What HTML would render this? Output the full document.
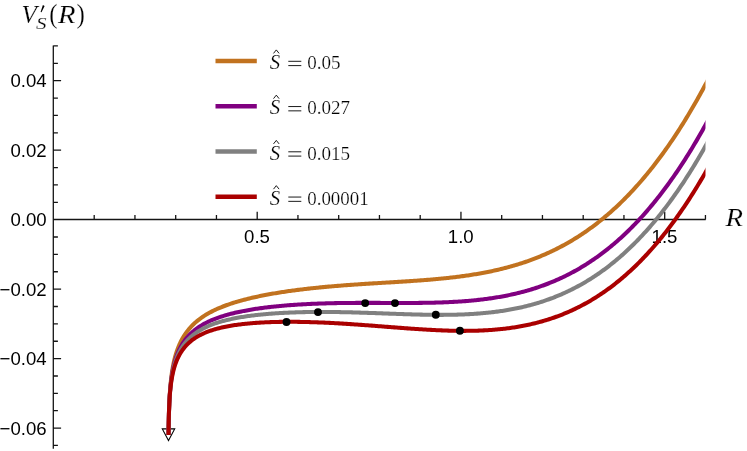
<!DOCTYPE html>
<html><head><meta charset="utf-8"><title>plot</title>
<style>html,body{margin:0;padding:0;background:#fff}body{width:747px;height:451px;position:relative;overflow:hidden;font-family:"Liberation Sans",sans-serif}</style></head>
<body>
<svg width="747" height="451" viewBox="0 0 747 451" style="position:absolute;left:0;top:0;will-change:transform">
<defs><clipPath id="cp"><rect x="53.3" y="40" width="652.2" height="406"/></clipPath></defs>
<path d="M53.3,219.5 H705.7 M53.3,45.4 V448.8 M94.20,219.5 v-4.6 M134.95,219.5 v-4.6 M175.70,219.5 v-4.6 M216.45,219.5 v-4.6 M257.20,219.5 v-7.8 M297.95,219.5 v-4.6 M338.70,219.5 v-4.6 M379.45,219.5 v-4.6 M420.20,219.5 v-4.6 M460.95,219.5 v-7.8 M501.70,219.5 v-4.6 M542.45,219.5 v-4.6 M583.20,219.5 v-4.6 M623.95,219.5 v-4.6 M664.70,219.5 v-7.8 M705.45,219.5 v-4.6 M53.3,445.46 h4.6 M53.3,428.09 h7.8 M53.3,410.72 h4.6 M53.3,393.35 h4.6 M53.3,375.98 h4.6 M53.3,358.61 h7.8 M53.3,341.24 h4.6 M53.3,323.87 h4.6 M53.3,306.50 h4.6 M53.3,289.13 h7.8 M53.3,271.76 h4.6 M53.3,254.39 h4.6 M53.3,237.02 h4.6 M53.3,219.65 h7.8 M53.3,202.28 h4.6 M53.3,184.91 h4.6 M53.3,167.54 h4.6 M53.3,150.17 h7.8 M53.3,132.80 h4.6 M53.3,115.43 h4.6 M53.3,98.06 h4.6 M53.3,80.69 h7.8 M53.3,63.32 h4.6 M53.3,45.95 h4.6" fill="none" stroke="#141414" stroke-width="1.3"/>
<text x="46.6" y="87.19" text-anchor="end" style="font-family:'Liberation Sans',sans-serif;font-size:18.6px;fill:#000">0.04</text>
<text x="46.6" y="156.67" text-anchor="end" style="font-family:'Liberation Sans',sans-serif;font-size:18.6px;fill:#000">0.02</text>
<text x="46.6" y="226.15" text-anchor="end" style="font-family:'Liberation Sans',sans-serif;font-size:18.6px;fill:#000">0.00</text>
<text x="46.6" y="295.63" text-anchor="end" style="font-family:'Liberation Sans',sans-serif;font-size:18.6px;fill:#000">−0.02</text>
<text x="46.6" y="365.11" text-anchor="end" style="font-family:'Liberation Sans',sans-serif;font-size:18.6px;fill:#000">−0.04</text>
<text x="46.6" y="434.59" text-anchor="end" style="font-family:'Liberation Sans',sans-serif;font-size:18.6px;fill:#000">−0.06</text>
<text x="257.00" y="242.6" text-anchor="middle" style="font-family:'Liberation Sans',sans-serif;font-size:18.6px;fill:#000">0.5</text>
<text x="460.75" y="242.6" text-anchor="middle" style="font-family:'Liberation Sans',sans-serif;font-size:18.6px;fill:#000">1.0</text>
<text x="664.50" y="242.6" text-anchor="middle" style="font-family:'Liberation Sans',sans-serif;font-size:18.6px;fill:#000">1.5</text>
<path d="M162.3,428.9 L174.7,428.9 L168.5,440.6 Z" fill="#fff" stroke="#000" stroke-width="1.1"/>
<g clip-path="url(#cp)" fill="none" stroke-linejoin="round">
<path d="M168.60,435.00 L168.60,435.00 L168.62,433.44 L168.63,431.88 L168.65,430.32 L168.68,428.76 L168.70,427.19 L168.72,425.62 L168.75,424.06 L168.78,422.49 L168.81,420.91 L168.84,419.34 L168.88,417.76 L168.91,416.19 L168.95,414.61 L168.99,413.02 L169.04,411.44 L169.09,409.85 L169.14,408.26 L169.20,406.66 L169.26,405.07 L169.32,403.47 L169.39,401.86 L169.47,400.26 L169.55,398.65 L169.63,397.03 L169.72,395.42 L169.82,393.80 L169.93,392.17 L170.04,390.54 L170.16,388.91 L170.29,387.27 L170.43,385.63 L170.58,383.99 L170.73,382.34 L170.91,380.68 L171.09,379.03 L171.28,377.36 L171.49,375.69 L171.72,374.02 L171.96,372.34 L172.22,370.66 L172.49,368.97 L172.79,367.28 L173.11,365.59 L173.45,363.89 L173.81,362.18 L174.20,360.47 L174.62,358.76 L175.07,357.04 L175.55,355.32 L176.07,353.60 L176.62,351.88 L177.21,350.15 L177.85,348.42 L178.53,346.69 L179.25,344.95 L180.04,343.22 L180.87,341.49 L181.77,339.76 L182.73,338.03 L183.76,336.31 L184.86,334.59 L186.04,332.87 L187.31,331.16 L188.67,329.46 L188.76,329.35 L190.07,327.82 L191.39,326.38 L192.71,325.03 L194.02,323.76 L195.34,322.56 L196.66,321.42 L197.98,320.34 L199.29,319.31 L200.61,318.33 L201.93,317.40 L203.24,316.50 L204.56,315.65 L205.88,314.83 L207.19,314.04 L208.51,313.28 L209.83,312.55 L211.15,311.85 L212.46,311.17 L213.78,310.52 L215.10,309.89 L216.41,309.28 L217.73,308.69 L219.05,308.11 L220.37,307.56 L221.68,307.02 L223.00,306.50 L224.32,305.99 L225.63,305.50 L226.95,305.02 L228.27,304.55 L229.58,304.10 L230.90,303.65 L232.22,303.22 L233.54,302.80 L234.85,302.39 L236.17,301.99 L237.49,301.60 L238.80,301.22 L240.12,300.84 L241.44,300.48 L242.76,300.12 L244.07,299.77 L245.39,299.43 L246.71,299.09 L248.02,298.77 L249.34,298.44 L250.66,298.13 L251.97,297.82 L253.29,297.52 L254.61,297.22 L255.93,296.93 L257.24,296.65 L258.56,296.37 L259.88,296.09 L261.19,295.82 L262.51,295.56 L263.83,295.30 L265.15,295.04 L266.46,294.79 L267.78,294.54 L269.10,294.30 L270.41,294.06 L271.73,293.83 L273.05,293.60 L274.36,293.37 L275.68,293.15 L277.00,292.93 L278.32,292.72 L279.63,292.51 L280.95,292.30 L282.27,292.09 L283.58,291.89 L284.90,291.70 L286.22,291.50 L287.53,291.31 L288.85,291.12 L290.17,290.93 L291.49,290.75 L292.80,290.57 L294.12,290.40 L295.44,290.22 L296.75,290.05 L298.07,289.88 L299.39,289.72 L300.71,289.55 L302.02,289.39 L303.34,289.23 L304.66,289.08 L305.97,288.92 L307.29,288.77 L308.61,288.62 L309.92,288.48 L311.24,288.33 L312.56,288.19 L313.88,288.05 L315.19,287.91 L316.51,287.78 L317.83,287.64 L319.14,287.51 L320.46,287.38 L321.78,287.25 L323.10,287.13 L324.41,287.00 L325.73,286.88 L327.05,286.76 L328.36,286.64 L329.68,286.52 L331.00,286.41 L332.31,286.29 L333.63,286.18 L334.95,286.07 L336.27,285.96 L337.58,285.86 L338.90,285.75 L340.22,285.65 L341.53,285.54 L342.85,285.44 L344.17,285.34 L345.49,285.24 L346.80,285.14 L348.12,285.05 L349.44,284.95 L350.75,284.86 L352.07,284.76 L353.39,284.67 L354.70,284.58 L356.02,284.49 L357.34,284.40 L358.66,284.31 L359.97,284.23 L361.29,284.14 L362.61,284.05 L363.92,283.97 L365.24,283.88 L366.56,283.80 L367.88,283.72 L369.19,283.63 L370.51,283.55 L371.83,283.47 L373.14,283.39 L374.46,283.31 L375.78,283.23 L377.09,283.15 L378.41,283.07 L379.73,282.99 L381.05,282.91 L382.36,282.83 L383.68,282.75 L385.00,282.68 L386.31,282.60 L387.63,282.52 L388.95,282.44 L390.27,282.36 L391.58,282.28 L392.90,282.20 L394.22,282.12 L395.53,282.04 L396.85,281.96 L398.17,281.88 L399.48,281.80 L400.80,281.72 L402.12,281.63 L403.44,281.55 L404.75,281.47 L406.07,281.38 L407.39,281.30 L408.70,281.21 L410.02,281.12 L411.34,281.03 L412.65,280.94 L413.97,280.85 L415.29,280.76 L416.61,280.67 L417.92,280.57 L419.24,280.48 L420.56,280.38 L421.87,280.28 L423.19,280.18 L424.51,280.08 L425.83,279.98 L427.14,279.87 L428.46,279.76 L429.78,279.66 L431.09,279.54 L432.41,279.43 L433.73,279.32 L435.04,279.20 L436.36,279.08 L437.68,278.96 L439.00,278.84 L440.31,278.71 L441.63,278.58 L442.95,278.45 L444.26,278.32 L445.58,278.18 L446.90,278.04 L448.22,277.90 L449.53,277.76 L450.85,277.61 L452.17,277.46 L453.48,277.30 L454.80,277.15 L456.12,276.99 L457.43,276.82 L458.75,276.66 L460.07,276.49 L461.39,276.31 L462.70,276.13 L464.02,275.95 L465.34,275.77 L466.65,275.58 L467.97,275.39 L469.29,275.19 L470.61,274.99 L471.92,274.78 L473.24,274.58 L474.56,274.36 L475.87,274.14 L477.19,273.92 L478.51,273.69 L479.82,273.46 L481.14,273.23 L482.46,272.99 L483.78,272.74 L485.09,272.49 L486.41,272.23 L487.73,271.97 L489.04,271.70 L490.36,271.43 L491.68,271.16 L493.00,270.87 L494.31,270.58 L495.63,270.29 L496.95,269.99 L498.26,269.68 L499.58,269.37 L500.90,269.06 L502.21,268.73 L503.53,268.40 L504.85,268.07 L506.17,267.72 L507.48,267.38 L508.80,267.02 L510.12,266.66 L511.43,266.29 L512.75,265.91 L514.07,265.53 L515.39,265.14 L516.70,264.74 L518.02,264.34 L519.34,263.93 L520.65,263.51 L521.97,263.09 L523.29,262.65 L524.60,262.21 L525.92,261.76 L527.24,261.31 L528.56,260.84 L529.87,260.37 L531.19,259.89 L532.51,259.40 L533.82,258.90 L535.14,258.39 L536.46,257.88 L537.77,257.36 L539.09,256.83 L540.41,256.28 L541.73,255.74 L543.04,255.18 L544.36,254.61 L545.68,254.03 L546.99,253.45 L548.31,252.85 L549.63,252.25 L550.95,251.63 L552.26,251.01 L553.58,250.37 L554.90,249.73 L556.21,249.08 L557.53,248.41 L558.85,247.74 L560.16,247.05 L561.48,246.36 L562.80,245.65 L564.12,244.94 L565.43,244.21 L566.75,243.47 L568.07,242.72 L569.38,241.97 L570.70,241.19 L572.02,240.41 L573.34,239.62 L574.65,238.82 L575.97,238.00 L577.29,237.17 L578.60,236.33 L579.92,235.48 L581.24,234.62 L582.55,233.74 L583.87,232.86 L585.19,231.96 L586.51,231.04 L587.82,230.12 L589.14,229.18 L590.46,228.23 L591.77,227.27 L593.09,226.30 L594.41,225.31 L595.73,224.31 L597.04,223.29 L598.36,222.27 L599.68,221.22 L600.99,220.17 L602.31,219.10 L603.63,218.02 L604.94,216.92 L606.26,215.81 L607.58,214.69 L608.90,213.55 L610.21,212.40 L611.53,211.24 L612.85,210.05 L614.16,208.86 L615.48,207.65 L616.80,206.42 L618.12,205.19 L619.43,203.93 L620.75,202.66 L622.07,201.38 L623.38,200.08 L624.70,198.76 L626.02,197.43 L627.33,196.08 L628.65,194.72 L629.97,193.34 L631.29,191.95 L632.60,190.54 L633.92,189.11 L635.24,187.67 L636.55,186.21 L637.87,184.74 L639.19,183.25 L640.51,181.74 L641.82,180.21 L643.14,178.67 L644.46,177.11 L645.77,175.54 L647.09,173.94 L648.41,172.33 L649.72,170.71 L651.04,169.06 L652.36,167.40 L653.68,165.72 L654.99,164.02 L656.31,162.30 L657.63,160.57 L658.94,158.82 L660.26,157.05 L661.58,155.26 L662.89,153.45 L664.21,151.63 L665.53,149.78 L666.85,147.92 L668.16,146.04 L669.48,144.14 L670.80,142.22 L672.11,140.28 L673.43,138.32 L674.75,136.34 L676.07,134.35 L677.38,132.33 L678.70,130.29 L680.02,128.24 L681.33,126.16 L682.65,124.07 L683.97,121.95 L685.28,119.82 L686.60,117.66 L687.92,115.49 L689.24,113.29 L690.55,111.07 L691.87,108.83 L693.19,106.58 L694.50,104.30 L695.82,102.00 L697.14,99.68 L698.46,97.33 L699.77,94.97 L701.09,92.58 L702.41,90.18 L703.72,87.75 L705.04,85.30 L706.36,82.83 L707.67,80.34 L708.99,77.82 L710.31,75.29 L711.63,72.73 L712.94,70.15 L714.26,67.54" stroke="#C1721F" stroke-width="4.05"/>
<path d="M168.57,435.00 L168.58,433.71 L168.60,432.28 L168.62,430.85 L168.63,429.42 L168.65,427.99 L168.68,426.55 L168.70,425.12 L168.72,423.68 L168.75,422.24 L168.78,420.80 L168.81,419.35 L168.84,417.91 L168.88,416.46 L168.91,415.01 L168.95,413.56 L168.99,412.10 L169.04,410.65 L169.09,409.19 L169.14,407.73 L169.20,406.26 L169.26,404.80 L169.32,403.33 L169.39,401.85 L169.47,400.38 L169.55,398.90 L169.63,397.42 L169.72,395.93 L169.82,394.44 L169.93,392.95 L170.04,391.45 L170.16,389.95 L170.29,388.45 L170.43,386.94 L170.58,385.43 L170.73,383.91 L170.91,382.39 L171.09,380.87 L171.28,379.34 L171.49,377.81 L171.72,376.27 L171.96,374.73 L172.22,373.19 L172.49,371.64 L172.79,370.09 L173.11,368.53 L173.45,366.97 L173.81,365.41 L174.20,363.84 L174.62,362.27 L175.07,360.70 L175.55,359.13 L176.07,357.56 L176.62,355.98 L177.21,354.40 L177.85,352.83 L178.53,351.25 L179.25,349.68 L180.04,348.10 L180.87,346.53 L181.77,344.97 L182.73,343.41 L183.76,341.85 L184.86,340.30 L186.04,338.76 L187.31,337.23 L188.67,335.71 L188.76,335.62 L190.07,334.26 L191.39,332.98 L192.71,331.79 L194.02,330.67 L195.34,329.62 L196.66,328.62 L197.98,327.68 L199.29,326.79 L200.61,325.94 L201.93,325.14 L203.24,324.37 L204.56,323.64 L205.88,322.94 L207.19,322.27 L208.51,321.64 L209.83,321.02 L211.15,320.44 L212.46,319.87 L213.78,319.33 L215.10,318.81 L216.41,318.31 L217.73,317.82 L219.05,317.36 L220.37,316.91 L221.68,316.48 L223.00,316.06 L224.32,315.65 L225.63,315.26 L226.95,314.88 L228.27,314.51 L229.58,314.16 L230.90,313.82 L232.22,313.48 L233.54,313.16 L234.85,312.84 L236.17,312.54 L237.49,312.24 L238.80,311.96 L240.12,311.68 L241.44,311.41 L242.76,311.14 L244.07,310.89 L245.39,310.64 L246.71,310.40 L248.02,310.16 L249.34,309.93 L250.66,309.71 L251.97,309.49 L253.29,309.28 L254.61,309.07 L255.93,308.87 L257.24,308.68 L258.56,308.48 L259.88,308.30 L261.19,308.12 L262.51,307.94 L263.83,307.77 L265.15,307.60 L266.46,307.44 L267.78,307.28 L269.10,307.13 L270.41,306.98 L271.73,306.83 L273.05,306.69 L274.36,306.55 L275.68,306.41 L277.00,306.28 L278.32,306.15 L279.63,306.03 L280.95,305.91 L282.27,305.79 L283.58,305.67 L284.90,305.56 L286.22,305.45 L287.53,305.34 L288.85,305.24 L290.17,305.14 L291.49,305.04 L292.80,304.95 L294.12,304.86 L295.44,304.77 L296.75,304.68 L298.07,304.60 L299.39,304.52 L300.71,304.44 L302.02,304.36 L303.34,304.29 L304.66,304.21 L305.97,304.15 L307.29,304.08 L308.61,304.01 L309.92,303.95 L311.24,303.89 L312.56,303.83 L313.88,303.78 L315.19,303.72 L316.51,303.67 L317.83,303.62 L319.14,303.57 L320.46,303.53 L321.78,303.48 L323.10,303.44 L324.41,303.40 L325.73,303.36 L327.05,303.33 L328.36,303.29 L329.68,303.26 L331.00,303.22 L332.31,303.19 L333.63,303.17 L334.95,303.14 L336.27,303.11 L337.58,303.09 L338.90,303.07 L340.22,303.05 L341.53,303.03 L342.85,303.01 L344.17,302.99 L345.49,302.98 L346.80,302.96 L348.12,302.95 L349.44,302.94 L350.75,302.93 L352.07,302.92 L353.39,302.91 L354.70,302.90 L356.02,302.89 L357.34,302.89 L358.66,302.88 L359.97,302.88 L361.29,302.87 L362.61,302.87 L363.92,302.87 L365.24,302.87 L366.56,302.87 L367.88,302.87 L369.19,302.87 L370.51,302.87 L371.83,302.87 L373.14,302.88 L374.46,302.88 L375.78,302.88 L377.09,302.89 L378.41,302.89 L379.73,302.89 L381.05,302.90 L382.36,302.90 L383.68,302.91 L385.00,302.91 L386.31,302.92 L387.63,302.92 L388.95,302.93 L390.27,302.93 L391.58,302.93 L392.90,302.94 L394.22,302.94 L395.53,302.95 L396.85,302.95 L398.17,302.95 L399.48,302.95 L400.80,302.95 L402.12,302.96 L403.44,302.96 L404.75,302.96 L406.07,302.95 L407.39,302.95 L408.70,302.95 L410.02,302.95 L411.34,302.94 L412.65,302.93 L413.97,302.93 L415.29,302.92 L416.61,302.91 L417.92,302.90 L419.24,302.89 L420.56,302.87 L421.87,302.86 L423.19,302.84 L424.51,302.82 L425.83,302.80 L427.14,302.78 L428.46,302.76 L429.78,302.74 L431.09,302.71 L432.41,302.68 L433.73,302.65 L435.04,302.62 L436.36,302.58 L437.68,302.54 L439.00,302.50 L440.31,302.46 L441.63,302.42 L442.95,302.37 L444.26,302.32 L445.58,302.27 L446.90,302.21 L448.22,302.15 L449.53,302.09 L450.85,302.03 L452.17,301.96 L453.48,301.89 L454.80,301.82 L456.12,301.74 L457.43,301.67 L458.75,301.58 L460.07,301.50 L461.39,301.41 L462.70,301.31 L464.02,301.22 L465.34,301.11 L466.65,301.01 L467.97,300.90 L469.29,300.79 L470.61,300.67 L471.92,300.55 L473.24,300.43 L474.56,300.30 L475.87,300.16 L477.19,300.02 L478.51,299.88 L479.82,299.73 L481.14,299.58 L482.46,299.43 L483.78,299.26 L485.09,299.10 L486.41,298.92 L487.73,298.75 L489.04,298.56 L490.36,298.38 L491.68,298.18 L493.00,297.99 L494.31,297.78 L495.63,297.57 L496.95,297.36 L498.26,297.13 L499.58,296.91 L500.90,296.67 L502.21,296.43 L503.53,296.19 L504.85,295.94 L506.17,295.68 L507.48,295.41 L508.80,295.14 L510.12,294.86 L511.43,294.58 L512.75,294.29 L514.07,293.99 L515.39,293.68 L516.70,293.37 L518.02,293.05 L519.34,292.73 L520.65,292.39 L521.97,292.05 L523.29,291.70 L524.60,291.34 L525.92,290.98 L527.24,290.61 L528.56,290.22 L529.87,289.84 L531.19,289.44 L532.51,289.03 L533.82,288.62 L535.14,288.20 L536.46,287.77 L537.77,287.33 L539.09,286.88 L540.41,286.43 L541.73,285.96 L543.04,285.49 L544.36,285.00 L545.68,284.51 L546.99,284.01 L548.31,283.50 L549.63,282.97 L550.95,282.44 L552.26,281.90 L553.58,281.35 L554.90,280.79 L556.21,280.22 L557.53,279.64 L558.85,279.05 L560.16,278.45 L561.48,277.84 L562.80,277.22 L564.12,276.59 L565.43,275.94 L566.75,275.29 L568.07,274.63 L569.38,273.95 L570.70,273.26 L572.02,272.57 L573.34,271.86 L574.65,271.13 L575.97,270.40 L577.29,269.66 L578.60,268.90 L579.92,268.14 L581.24,267.36 L582.55,266.56 L583.87,265.76 L585.19,264.94 L586.51,264.12 L587.82,263.27 L589.14,262.42 L590.46,261.55 L591.77,260.68 L593.09,259.78 L594.41,258.88 L595.73,257.96 L597.04,257.03 L598.36,256.09 L599.68,255.13 L600.99,254.16 L602.31,253.17 L603.63,252.17 L604.94,251.16 L606.26,250.13 L607.58,249.09 L608.90,248.04 L610.21,246.97 L611.53,245.88 L612.85,244.79 L614.16,243.67 L615.48,242.55 L616.80,241.41 L618.12,240.25 L619.43,239.08 L620.75,237.89 L622.07,236.69 L623.38,235.47 L624.70,234.24 L626.02,232.99 L627.33,231.72 L628.65,230.44 L629.97,229.15 L631.29,227.84 L632.60,226.51 L633.92,225.17 L635.24,223.81 L636.55,222.43 L637.87,221.04 L639.19,219.63 L640.51,218.20 L641.82,216.76 L643.14,215.30 L644.46,213.82 L645.77,212.33 L647.09,210.82 L648.41,209.29 L649.72,207.74 L651.04,206.18 L652.36,204.60 L653.68,203.00 L654.99,201.38 L656.31,199.75 L657.63,198.09 L658.94,196.42 L660.26,194.73 L661.58,193.03 L662.89,191.30 L664.21,189.56 L665.53,187.79 L666.85,186.01 L668.16,184.21 L669.48,182.39 L670.80,180.55 L672.11,178.69 L673.43,176.82 L674.75,174.92 L676.07,173.00 L677.38,171.07 L678.70,169.11 L680.02,167.14 L681.33,165.14 L682.65,163.13 L683.97,161.09 L685.28,159.04 L686.60,156.96 L687.92,154.87 L689.24,152.75 L690.55,150.61 L691.87,148.45 L693.19,146.28 L694.50,144.08 L695.82,141.86 L697.14,139.61 L698.46,137.35 L699.77,135.07 L701.09,132.76 L702.41,130.44 L703.72,128.09 L705.04,125.72 L706.36,123.32 L707.67,120.91 L708.99,118.48 L710.31,116.02 L711.63,113.54 L712.94,111.04 L714.26,108.51" stroke="#800080" stroke-width="4.05"/>
<path d="M168.55,435.00 L168.55,434.95 L168.57,433.59 L168.58,432.23 L168.60,430.86 L168.62,429.50 L168.63,428.14 L168.65,426.77 L168.68,425.40 L168.70,424.03 L168.72,422.66 L168.75,421.29 L168.78,419.91 L168.81,418.54 L168.84,417.16 L168.88,415.78 L168.91,414.40 L168.95,413.01 L168.99,411.63 L169.04,410.24 L169.09,408.85 L169.14,407.45 L169.20,406.06 L169.26,404.66 L169.32,403.25 L169.39,401.85 L169.47,400.44 L169.55,399.03 L169.63,397.62 L169.72,396.20 L169.82,394.78 L169.93,393.35 L170.04,391.93 L170.16,390.49 L170.29,389.06 L170.43,387.62 L170.58,386.18 L170.73,384.73 L170.91,383.28 L171.09,381.83 L171.28,380.37 L171.49,378.91 L171.72,377.44 L171.96,375.98 L172.22,374.50 L172.49,373.03 L172.79,371.55 L173.11,370.07 L173.45,368.58 L173.81,367.09 L174.20,365.60 L174.62,364.11 L175.07,362.61 L175.55,361.12 L176.07,359.62 L176.62,358.12 L177.21,356.62 L177.85,355.13 L178.53,353.63 L179.25,352.14 L180.04,350.65 L180.87,349.16 L181.77,347.68 L182.73,346.21 L183.76,344.74 L184.86,343.28 L186.04,341.84 L187.31,340.40 L188.67,338.98 L188.76,338.89 L190.07,337.61 L191.39,336.43 L192.71,335.32 L194.02,334.28 L195.34,333.30 L196.66,332.38 L197.98,331.51 L199.29,330.69 L200.61,329.91 L201.93,329.18 L203.24,328.48 L204.56,327.81 L205.88,327.18 L207.19,326.57 L208.51,325.99 L209.83,325.44 L211.15,324.92 L212.46,324.41 L213.78,323.93 L215.10,323.46 L216.41,323.02 L217.73,322.59 L219.05,322.18 L220.37,321.79 L221.68,321.41 L223.00,321.04 L224.32,320.69 L225.63,320.35 L226.95,320.03 L228.27,319.71 L229.58,319.41 L230.90,319.12 L232.22,318.84 L233.54,318.56 L234.85,318.30 L236.17,318.04 L237.49,317.80 L238.80,317.56 L240.12,317.33 L241.44,317.11 L242.76,316.90 L244.07,316.69 L245.39,316.49 L246.71,316.29 L248.02,316.10 L249.34,315.92 L250.66,315.75 L251.97,315.58 L253.29,315.41 L254.61,315.25 L255.93,315.10 L257.24,314.95 L258.56,314.81 L259.88,314.67 L261.19,314.53 L262.51,314.40 L263.83,314.28 L265.15,314.16 L266.46,314.04 L267.78,313.93 L269.10,313.82 L270.41,313.71 L271.73,313.61 L273.05,313.52 L274.36,313.42 L275.68,313.33 L277.00,313.24 L278.32,313.16 L279.63,313.08 L280.95,313.00 L282.27,312.93 L283.58,312.86 L284.90,312.79 L286.22,312.73 L287.53,312.67 L288.85,312.61 L290.17,312.55 L291.49,312.50 L292.80,312.45 L294.12,312.40 L295.44,312.36 L296.75,312.31 L298.07,312.27 L299.39,312.24 L300.71,312.20 L302.02,312.17 L303.34,312.14 L304.66,312.11 L305.97,312.09 L307.29,312.06 L308.61,312.04 L309.92,312.03 L311.24,312.01 L312.56,311.99 L313.88,311.98 L315.19,311.97 L316.51,311.96 L317.83,311.96 L319.14,311.95 L320.46,311.95 L321.78,311.95 L323.10,311.95 L324.41,311.96 L325.73,311.96 L327.05,311.97 L328.36,311.98 L329.68,311.99 L331.00,312.00 L332.31,312.01 L333.63,312.03 L334.95,312.04 L336.27,312.06 L337.58,312.08 L338.90,312.10 L340.22,312.13 L341.53,312.15 L342.85,312.17 L344.17,312.20 L345.49,312.23 L346.80,312.26 L348.12,312.29 L349.44,312.32 L350.75,312.35 L352.07,312.39 L353.39,312.42 L354.70,312.46 L356.02,312.49 L357.34,312.53 L358.66,312.57 L359.97,312.61 L361.29,312.65 L362.61,312.69 L363.92,312.73 L365.24,312.77 L366.56,312.82 L367.88,312.86 L369.19,312.91 L370.51,312.95 L371.83,313.00 L373.14,313.04 L374.46,313.09 L375.78,313.14 L377.09,313.18 L378.41,313.23 L379.73,313.28 L381.05,313.33 L382.36,313.37 L383.68,313.42 L385.00,313.47 L386.31,313.52 L387.63,313.57 L388.95,313.62 L390.27,313.66 L391.58,313.71 L392.90,313.76 L394.22,313.81 L395.53,313.85 L396.85,313.90 L398.17,313.95 L399.48,313.99 L400.80,314.04 L402.12,314.08 L403.44,314.12 L404.75,314.17 L406.07,314.21 L407.39,314.25 L408.70,314.29 L410.02,314.33 L411.34,314.37 L412.65,314.41 L413.97,314.44 L415.29,314.48 L416.61,314.51 L417.92,314.55 L419.24,314.58 L420.56,314.61 L421.87,314.64 L423.19,314.67 L424.51,314.69 L425.83,314.72 L427.14,314.74 L428.46,314.76 L429.78,314.78 L431.09,314.79 L432.41,314.81 L433.73,314.82 L435.04,314.83 L436.36,314.84 L437.68,314.85 L439.00,314.85 L440.31,314.85 L441.63,314.85 L442.95,314.85 L444.26,314.84 L445.58,314.83 L446.90,314.82 L448.22,314.81 L449.53,314.79 L450.85,314.77 L452.17,314.75 L453.48,314.72 L454.80,314.69 L456.12,314.66 L457.43,314.63 L458.75,314.59 L460.07,314.54 L461.39,314.50 L462.70,314.45 L464.02,314.40 L465.34,314.34 L466.65,314.28 L467.97,314.21 L469.29,314.14 L470.61,314.07 L471.92,313.99 L473.24,313.91 L474.56,313.83 L475.87,313.74 L477.19,313.64 L478.51,313.54 L479.82,313.44 L481.14,313.33 L482.46,313.22 L483.78,313.10 L485.09,312.98 L486.41,312.85 L487.73,312.72 L489.04,312.58 L490.36,312.44 L491.68,312.29 L493.00,312.13 L494.31,311.97 L495.63,311.81 L496.95,311.63 L498.26,311.46 L499.58,311.27 L500.90,311.08 L502.21,310.89 L503.53,310.69 L504.85,310.48 L506.17,310.26 L507.48,310.04 L508.80,309.82 L510.12,309.58 L511.43,309.34 L512.75,309.09 L514.07,308.84 L515.39,308.58 L516.70,308.31 L518.02,308.03 L519.34,307.75 L520.65,307.46 L521.97,307.16 L523.29,306.86 L524.60,306.54 L525.92,306.22 L527.24,305.89 L528.56,305.56 L529.87,305.21 L531.19,304.86 L532.51,304.50 L533.82,304.13 L535.14,303.75 L536.46,303.36 L537.77,302.97 L539.09,302.56 L540.41,302.15 L541.73,301.73 L543.04,301.30 L544.36,300.86 L545.68,300.41 L546.99,299.95 L548.31,299.48 L549.63,299.01 L550.95,298.52 L552.26,298.02 L553.58,297.52 L554.90,297.00 L556.21,296.47 L557.53,295.94 L558.85,295.39 L560.16,294.83 L561.48,294.27 L562.80,293.69 L564.12,293.10 L565.43,292.50 L566.75,291.89 L568.07,291.27 L569.38,290.64 L570.70,289.99 L572.02,289.34 L573.34,288.67 L574.65,288.00 L575.97,287.31 L577.29,286.61 L578.60,285.90 L579.92,285.17 L581.24,284.44 L582.55,283.69 L583.87,282.93 L585.19,282.15 L586.51,281.37 L587.82,280.57 L589.14,279.76 L590.46,278.94 L591.77,278.10 L593.09,277.26 L594.41,276.39 L595.73,275.52 L597.04,274.63 L598.36,273.73 L599.68,272.82 L600.99,271.89 L602.31,270.95 L603.63,269.99 L604.94,269.02 L606.26,268.04 L607.58,267.04 L608.90,266.03 L610.21,265.00 L611.53,263.96 L612.85,262.91 L614.16,261.84 L615.48,260.75 L616.80,259.66 L618.12,258.54 L619.43,257.41 L620.75,256.27 L622.07,255.11 L623.38,253.94 L624.70,252.75 L626.02,251.54 L627.33,250.32 L628.65,249.08 L629.97,247.83 L631.29,246.56 L632.60,245.28 L633.92,243.98 L635.24,242.66 L636.55,241.32 L637.87,239.97 L639.19,238.61 L640.51,237.22 L641.82,235.82 L643.14,234.41 L644.46,232.97 L645.77,231.52 L647.09,230.05 L648.41,228.57 L649.72,227.06 L651.04,225.54 L652.36,224.00 L653.68,222.45 L654.99,220.87 L656.31,219.28 L657.63,217.67 L658.94,216.04 L660.26,214.40 L661.58,212.73 L662.89,211.05 L664.21,209.35 L665.53,207.62 L666.85,205.88 L668.16,204.13 L669.48,202.35 L670.80,200.55 L672.11,198.74 L673.43,196.90 L674.75,195.05 L676.07,193.17 L677.38,191.28 L678.70,189.37 L680.02,187.43 L681.33,185.48 L682.65,183.51 L683.97,181.51 L685.28,179.50 L686.60,177.47 L687.92,175.41 L689.24,173.34 L690.55,171.24 L691.87,169.12 L693.19,166.99 L694.50,164.83 L695.82,162.65 L697.14,160.45 L698.46,158.23 L699.77,155.99 L701.09,153.72 L702.41,151.44 L703.72,149.13 L705.04,146.80 L706.36,144.45 L707.67,142.08 L708.99,139.69 L710.31,137.27 L711.63,134.83 L712.94,132.37 L714.26,129.89" stroke="#808080" stroke-width="4.05"/>
<path d="M168.53,435.00 L168.54,434.20 L168.55,432.93 L168.57,431.65 L168.58,430.37 L168.60,429.09 L168.62,427.81 L168.63,426.53 L168.65,425.25 L168.68,423.96 L168.70,422.68 L168.72,421.39 L168.75,420.10 L168.78,418.81 L168.81,417.52 L168.84,416.23 L168.88,414.93 L168.91,413.63 L168.95,412.33 L168.99,411.03 L169.04,409.72 L169.09,408.42 L169.14,407.11 L169.20,405.79 L169.26,404.48 L169.32,403.16 L169.39,401.84 L169.47,400.52 L169.55,399.19 L169.63,397.87 L169.72,396.53 L169.82,395.20 L169.93,393.86 L170.04,392.52 L170.16,391.17 L170.29,389.82 L170.43,388.47 L170.58,387.12 L170.73,385.76 L170.91,384.40 L171.09,383.03 L171.28,381.66 L171.49,380.29 L171.72,378.91 L171.96,377.53 L172.22,376.15 L172.49,374.76 L172.79,373.37 L173.11,371.98 L173.45,370.59 L173.81,369.19 L174.20,367.80 L174.62,366.40 L175.07,365.00 L175.55,363.60 L176.07,362.19 L176.62,360.79 L177.21,359.40 L177.85,358.00 L178.53,356.61 L179.25,355.21 L180.04,353.83 L180.87,352.45 L181.77,351.08 L182.73,349.71 L183.76,348.35 L184.86,347.01 L186.04,345.68 L187.31,344.36 L188.67,343.05 L188.76,342.97 L190.07,341.81 L191.39,340.73 L192.71,339.72 L194.02,338.78 L195.34,337.90 L196.66,337.07 L197.98,336.30 L199.29,335.56 L200.61,334.87 L201.93,334.22 L203.24,333.60 L204.56,333.02 L205.88,332.46 L207.19,331.94 L208.51,331.44 L209.83,330.96 L211.15,330.51 L212.46,330.08 L213.78,329.67 L215.10,329.28 L216.41,328.90 L217.73,328.55 L219.05,328.21 L220.37,327.88 L221.68,327.57 L223.00,327.27 L224.32,326.99 L225.63,326.72 L226.95,326.46 L228.27,326.21 L229.58,325.97 L230.90,325.74 L232.22,325.52 L233.54,325.31 L234.85,325.11 L236.17,324.92 L237.49,324.74 L238.80,324.56 L240.12,324.39 L241.44,324.23 L242.76,324.08 L244.07,323.93 L245.39,323.79 L246.71,323.66 L248.02,323.53 L249.34,323.41 L250.66,323.29 L251.97,323.18 L253.29,323.08 L254.61,322.98 L255.93,322.88 L257.24,322.79 L258.56,322.71 L259.88,322.62 L261.19,322.55 L262.51,322.48 L263.83,322.41 L265.15,322.34 L266.46,322.29 L267.78,322.23 L269.10,322.18 L270.41,322.13 L271.73,322.09 L273.05,322.04 L274.36,322.01 L275.68,321.97 L277.00,321.94 L278.32,321.92 L279.63,321.89 L280.95,321.87 L282.27,321.85 L283.58,321.84 L284.90,321.83 L286.22,321.82 L287.53,321.81 L288.85,321.81 L290.17,321.81 L291.49,321.81 L292.80,321.82 L294.12,321.83 L295.44,321.84 L296.75,321.85 L298.07,321.87 L299.39,321.88 L300.71,321.90 L302.02,321.93 L303.34,321.95 L304.66,321.98 L305.97,322.01 L307.29,322.04 L308.61,322.07 L309.92,322.11 L311.24,322.15 L312.56,322.19 L313.88,322.23 L315.19,322.28 L316.51,322.32 L317.83,322.37 L319.14,322.42 L320.46,322.48 L321.78,322.53 L323.10,322.59 L324.41,322.64 L325.73,322.70 L327.05,322.76 L328.36,322.83 L329.68,322.89 L331.00,322.96 L332.31,323.03 L333.63,323.10 L334.95,323.17 L336.27,323.24 L337.58,323.31 L338.90,323.39 L340.22,323.47 L341.53,323.54 L342.85,323.62 L344.17,323.71 L345.49,323.79 L346.80,323.87 L348.12,323.96 L349.44,324.04 L350.75,324.13 L352.07,324.22 L353.39,324.31 L354.70,324.40 L356.02,324.49 L357.34,324.58 L358.66,324.67 L359.97,324.77 L361.29,324.86 L362.61,324.96 L363.92,325.05 L365.24,325.15 L366.56,325.25 L367.88,325.34 L369.19,325.44 L370.51,325.54 L371.83,325.64 L373.14,325.74 L374.46,325.84 L375.78,325.94 L377.09,326.05 L378.41,326.15 L379.73,326.25 L381.05,326.35 L382.36,326.45 L383.68,326.56 L385.00,326.66 L386.31,326.76 L387.63,326.86 L388.95,326.97 L390.27,327.07 L391.58,327.17 L392.90,327.27 L394.22,327.38 L395.53,327.48 L396.85,327.58 L398.17,327.68 L399.48,327.78 L400.80,327.88 L402.12,327.98 L403.44,328.08 L404.75,328.17 L406.07,328.27 L407.39,328.37 L408.70,328.46 L410.02,328.56 L411.34,328.65 L412.65,328.74 L413.97,328.83 L415.29,328.92 L416.61,329.01 L417.92,329.10 L419.24,329.18 L420.56,329.27 L421.87,329.35 L423.19,329.43 L424.51,329.51 L425.83,329.59 L427.14,329.67 L428.46,329.75 L429.78,329.82 L431.09,329.89 L432.41,329.96 L433.73,330.03 L435.04,330.09 L436.36,330.16 L437.68,330.22 L439.00,330.28 L440.31,330.33 L441.63,330.39 L442.95,330.44 L444.26,330.49 L445.58,330.53 L446.90,330.58 L448.22,330.62 L449.53,330.65 L450.85,330.69 L452.17,330.72 L453.48,330.75 L454.80,330.78 L456.12,330.80 L457.43,330.82 L458.75,330.83 L460.07,330.85 L461.39,330.85 L462.70,330.86 L464.02,330.86 L465.34,330.86 L466.65,330.85 L467.97,330.84 L469.29,330.83 L470.61,330.81 L471.92,330.79 L473.24,330.76 L474.56,330.73 L475.87,330.70 L477.19,330.66 L478.51,330.61 L479.82,330.56 L481.14,330.51 L482.46,330.45 L483.78,330.39 L485.09,330.32 L486.41,330.25 L487.73,330.17 L489.04,330.08 L490.36,330.00 L491.68,329.90 L493.00,329.80 L494.31,329.70 L495.63,329.59 L496.95,329.47 L498.26,329.35 L499.58,329.22 L500.90,329.08 L502.21,328.94 L503.53,328.80 L504.85,328.64 L506.17,328.48 L507.48,328.32 L508.80,328.14 L510.12,327.96 L511.43,327.78 L512.75,327.59 L514.07,327.39 L515.39,327.18 L516.70,326.97 L518.02,326.75 L519.34,326.52 L520.65,326.28 L521.97,326.04 L523.29,325.79 L524.60,325.53 L525.92,325.26 L527.24,324.99 L528.56,324.71 L529.87,324.42 L531.19,324.12 L532.51,323.81 L533.82,323.50 L535.14,323.17 L536.46,322.84 L537.77,322.50 L539.09,322.15 L540.41,321.80 L541.73,321.43 L543.04,321.05 L544.36,320.67 L545.68,320.27 L546.99,319.87 L548.31,319.46 L549.63,319.03 L550.95,318.60 L552.26,318.16 L553.58,317.71 L554.90,317.25 L556.21,316.77 L557.53,316.29 L558.85,315.80 L560.16,315.30 L561.48,314.79 L562.80,314.26 L564.12,313.73 L565.43,313.18 L566.75,312.63 L568.07,312.06 L569.38,311.48 L570.70,310.90 L572.02,310.30 L573.34,309.68 L574.65,309.06 L575.97,308.43 L577.29,307.78 L578.60,307.12 L579.92,306.45 L581.24,305.77 L582.55,305.08 L583.87,304.37 L585.19,303.65 L586.51,302.92 L587.82,302.18 L589.14,301.42 L590.46,300.66 L591.77,299.87 L593.09,299.08 L594.41,298.27 L595.73,297.45 L597.04,296.62 L598.36,295.77 L599.68,294.91 L600.99,294.04 L602.31,293.15 L603.63,292.25 L604.94,291.33 L606.26,290.40 L607.58,289.46 L608.90,288.50 L610.21,287.53 L611.53,286.54 L612.85,285.54 L614.16,284.53 L615.48,283.50 L616.80,282.45 L618.12,281.39 L619.43,280.32 L620.75,279.23 L622.07,278.12 L623.38,277.00 L624.70,275.87 L626.02,274.71 L627.33,273.55 L628.65,272.36 L629.97,271.17 L631.29,269.95 L632.60,268.72 L633.92,267.47 L635.24,266.21 L636.55,264.93 L637.87,263.63 L639.19,262.32 L640.51,260.99 L641.82,259.64 L643.14,258.28 L644.46,256.90 L645.77,255.50 L647.09,254.08 L648.41,252.65 L649.72,251.20 L651.04,249.73 L652.36,248.25 L653.68,246.74 L654.99,245.22 L656.31,243.68 L657.63,242.13 L658.94,240.55 L660.26,238.96 L661.58,237.35 L662.89,235.71 L664.21,234.07 L665.53,232.40 L666.85,230.71 L668.16,229.00 L669.48,227.28 L670.80,225.54 L672.11,223.77 L673.43,221.99 L674.75,220.19 L676.07,218.37 L677.38,216.53 L678.70,214.66 L680.02,212.78 L681.33,210.88 L682.65,208.96 L683.97,207.02 L685.28,205.06 L686.60,203.08 L687.92,201.08 L689.24,199.05 L690.55,197.01 L691.87,194.95 L693.19,192.86 L694.50,190.76 L695.82,188.63 L697.14,186.48 L698.46,184.31 L699.77,182.12 L701.09,179.91 L702.41,177.68 L703.72,175.42 L705.04,173.14 L706.36,170.84 L707.67,168.52 L708.99,166.18 L710.31,163.82 L711.63,161.43 L712.94,159.02 L714.26,156.59" stroke="#AA0000" stroke-width="4.05"/>
</g>
<circle cx="286.5" cy="322.0" r="3.95" fill="#000"/>
<circle cx="459.9" cy="330.7" r="3.95" fill="#000"/>
<circle cx="318.0" cy="312.1" r="3.95" fill="#000"/>
<circle cx="435.8" cy="314.8" r="3.95" fill="#000"/>
<circle cx="365.2" cy="303.1" r="3.95" fill="#000"/>
<circle cx="395.0" cy="303.1" r="3.95" fill="#000"/>
<path d="M215.5,61.00 H256.8" stroke="#C1721F" stroke-width="4.3" fill="none"/>
<text x="269.8" y="69.20" style="font-family:'Liberation Serif',serif;fill:#000;stroke:#fff;stroke-width:0.2px;font-style:italic;font-size:20.6px" textLength="10.4" lengthAdjust="spacingAndGlyphs">S</text>
<path d="M273.5,53.40 l2.8,-3.5 l2.8,3.5" fill="none" stroke="#000" stroke-width="0.9"/>
<path d="M288.3,61.30 h13 M288.3,65.60 h13" fill="none" stroke="#000" stroke-width="0.9"/>
<text x="307.2" y="69.20" style="font-family:'Liberation Serif',serif;fill:#000;stroke:#fff;stroke-width:0.2px;font-size:18.5px" textLength="33.3" lengthAdjust="spacingAndGlyphs">0.05</text>
<path d="M215.5,106.25 H256.8" stroke="#800080" stroke-width="4.3" fill="none"/>
<text x="269.8" y="114.45" style="font-family:'Liberation Serif',serif;fill:#000;stroke:#fff;stroke-width:0.2px;font-style:italic;font-size:20.6px" textLength="10.4" lengthAdjust="spacingAndGlyphs">S</text>
<path d="M273.5,98.65 l2.8,-3.5 l2.8,3.5" fill="none" stroke="#000" stroke-width="0.9"/>
<path d="M288.3,106.55 h13 M288.3,110.85 h13" fill="none" stroke="#000" stroke-width="0.9"/>
<text x="307.2" y="114.45" style="font-family:'Liberation Serif',serif;fill:#000;stroke:#fff;stroke-width:0.2px;font-size:18.5px" textLength="42.9" lengthAdjust="spacingAndGlyphs">0.027</text>
<path d="M215.5,151.50 H256.8" stroke="#808080" stroke-width="4.3" fill="none"/>
<text x="269.8" y="159.70" style="font-family:'Liberation Serif',serif;fill:#000;stroke:#fff;stroke-width:0.2px;font-style:italic;font-size:20.6px" textLength="10.4" lengthAdjust="spacingAndGlyphs">S</text>
<path d="M273.5,143.90 l2.8,-3.5 l2.8,3.5" fill="none" stroke="#000" stroke-width="0.9"/>
<path d="M288.3,151.80 h13 M288.3,156.10 h13" fill="none" stroke="#000" stroke-width="0.9"/>
<text x="307.2" y="159.70" style="font-family:'Liberation Serif',serif;fill:#000;stroke:#fff;stroke-width:0.2px;font-size:18.5px" textLength="42.9" lengthAdjust="spacingAndGlyphs">0.015</text>
<path d="M215.5,196.75 H256.8" stroke="#AA0000" stroke-width="4.3" fill="none"/>
<text x="269.8" y="204.95" style="font-family:'Liberation Serif',serif;fill:#000;stroke:#fff;stroke-width:0.2px;font-style:italic;font-size:20.6px" textLength="10.4" lengthAdjust="spacingAndGlyphs">S</text>
<path d="M273.5,189.15 l2.8,-3.5 l2.8,3.5" fill="none" stroke="#000" stroke-width="0.9"/>
<path d="M288.3,197.05 h13 M288.3,201.35 h13" fill="none" stroke="#000" stroke-width="0.9"/>
<text x="307.2" y="204.95" style="font-family:'Liberation Serif',serif;fill:#000;stroke:#fff;stroke-width:0.2px;font-size:18.5px" textLength="61.5" lengthAdjust="spacingAndGlyphs">0.00001</text>
<text x="21.5" y="22.6" style="font-family:'Liberation Serif',serif;fill:#000;stroke:#fff;stroke-width:0.2px;font-style:italic;font-size:25px" textLength="15.4" lengthAdjust="spacingAndGlyphs">V</text>
<path d="M42.9,5.0 L44.6,5.9 L41.5,12.3 L40.6,11.9 Z" fill="#000"/>
<text x="36.1" y="29.1" style="font-family:'Liberation Serif',serif;fill:#000;stroke:#fff;stroke-width:0.2px;font-style:italic;font-size:16.4px" textLength="10.6" lengthAdjust="spacingAndGlyphs">S</text>
<text x="49.2" y="22.6" transform="translate(0,16.4) scale(1,1.1) translate(0,-16.4)" style="font-family:'Liberation Serif',serif;fill:#000;stroke:#fff;stroke-width:0.2px;font-size:25px" >(</text>
<text x="58" y="22.6" style="font-family:'Liberation Serif',serif;fill:#000;stroke:#fff;stroke-width:0.2px;font-style:italic;font-size:25px" textLength="17.5" lengthAdjust="spacingAndGlyphs">R</text>
<text x="76.4" y="22.6" transform="translate(0,16.4) scale(1,1.1) translate(0,-16.4)" style="font-family:'Liberation Serif',serif;fill:#000;stroke:#fff;stroke-width:0.2px;font-size:25px">)</text>
<text x="725.4" y="226.4" style="font-family:'Liberation Serif',serif;fill:#000;stroke:#fff;stroke-width:0.2px;font-style:italic;font-size:25px" textLength="17.5" lengthAdjust="spacingAndGlyphs">R</text>
</svg>
</body></html>
